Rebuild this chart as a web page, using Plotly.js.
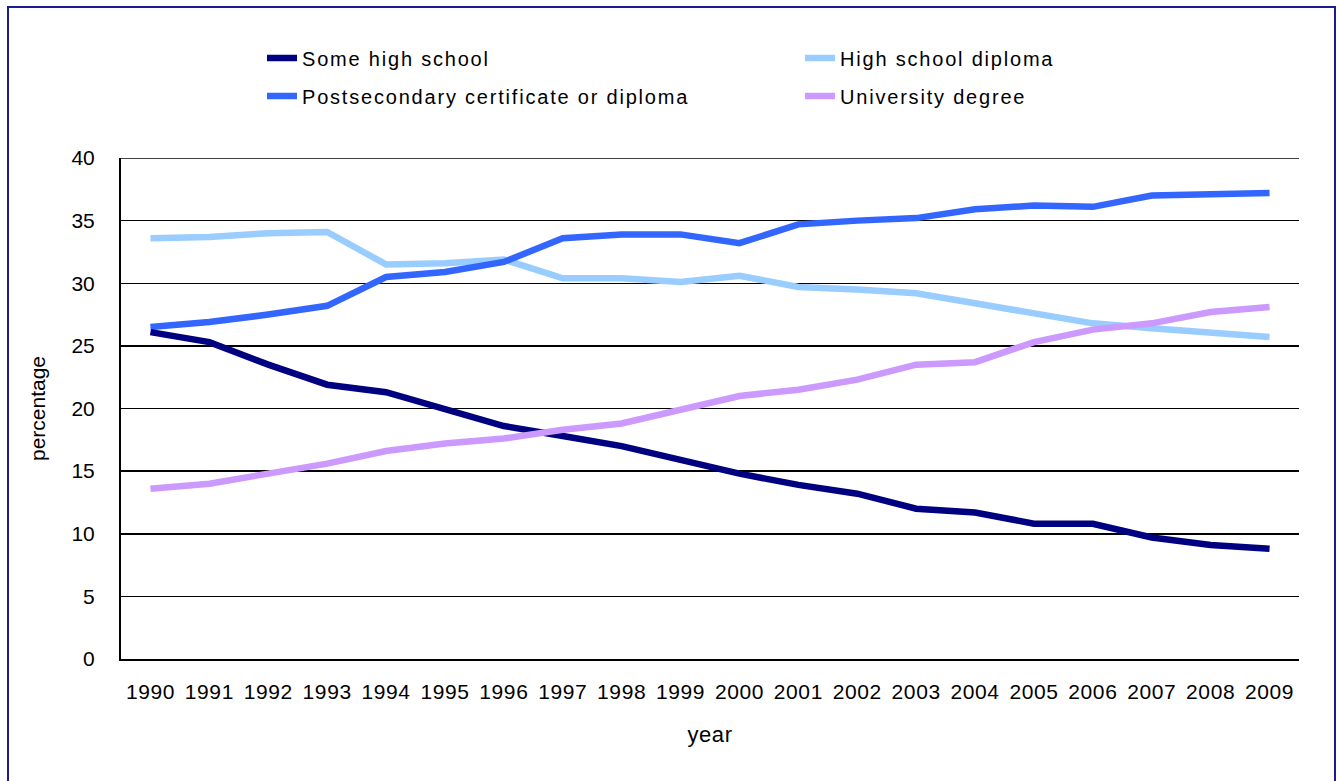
<!DOCTYPE html>
<html>
<head>
<meta charset="utf-8">
<script src="https://cdn.plot.ly/plotly-3.0.1.min.js"></script>
<style>
  html, body { margin: 0; padding: 0; background: #ffffff; }
  #wrap { position: relative; width: 1338px; height: 781px; overflow: hidden; }
  #chart { position: absolute; left: 0; top: 0; width: 1338px; height: 781px; }
  #frame { position: absolute; left: 7px; top: 6px; width: 1329px; height: 820px;
           border: 2px solid #1c1c8e; box-sizing: border-box; pointer-events: none; }
  #chart text.legendtext, #chart .infolayer g[class^="legend"] text { letter-spacing: 1.8px; }
  #chart .xtick text, #chart .g-xtitle text { letter-spacing: 0.6px; }
</style>
</head>
<body>
<div id="wrap">
  <div id="chart"></div>
  <div id="frame"></div>
</div>
<script>
const years = ['1990','1991','1992','1993','1994','1995','1996','1997','1998','1999',
               '2000','2001','2002','2003','2004','2005','2006','2007','2008','2009'];

const someHighSchool = [26.1, 25.3, 23.5, 21.9, 21.3, 19.9, 18.6, 17.8, 17.0, 15.9,
                        14.8, 13.9, 13.2, 12.0, 11.7, 10.8, 10.8, 9.7, 9.1, 8.8];
const highSchoolDiploma = [33.6, 33.7, 34.0, 34.1, 31.5, 31.6, 31.9, 30.4, 30.4, 30.1,
                           30.6, 29.7, 29.5, 29.2, 28.4, 27.6, 26.8, 26.4, 26.0, 25.7];
const postsecondary = [26.5, 26.9, 27.5, 28.2, 30.5, 30.9, 31.7, 33.6, 33.9, 33.9,
                       33.2, 34.7, 35.0, 35.2, 35.9, 36.2, 36.1, 37.0, 37.1, 37.2];
const university = [13.6, 14.0, 14.8, 15.6, 16.6, 17.2, 17.6, 18.3, 18.8, 19.9,
                    21.0, 21.5, 22.3, 23.5, 23.7, 25.3, 26.3, 26.8, 27.7, 28.1];

const yTicks = [0, 5, 10, 15, 20, 25, 30, 35, 40];

const FONT = 'Liberation Sans, Arial, sans-serif';
const LW = 6.5;

const traces = [
  { name: 'High school diploma', x: years, y: highSchoolDiploma, legend: 'legend', legendrank: 2,
    line: { color: '#99ccff', width: LW } },
  { name: 'Postsecondary certificate or diploma', x: years, y: postsecondary, legend: 'legend2', legendrank: 1,
    line: { color: '#3366ff', width: LW } },
  { name: 'Some high school', x: years, y: someHighSchool, legend: 'legend', legendrank: 1,
    line: { color: '#000080', width: LW } },
  { name: 'University degree', x: years, y: university, legend: 'legend2', legendrank: 2,
    line: { color: '#cc99ff', width: LW } }
].map(t => Object.assign({ type: 'scatter', mode: 'lines', hoverinfo: 'skip' }, t));

const legendCommon = {
  orientation: 'h', xref: 'paper', yref: 'container', xanchor: 'left', yanchor: 'middle',
  x: 0.1776, entrywidth: 493, entrywidthmode: 'pixels', traceorder: 'normal',
  font: { family: FONT, size: 20, color: '#000000' }, bgcolor: 'rgba(0,0,0,0)', itemwidth: 30
};

const layout = {
  width: 1338, height: 781,
  paper_bgcolor: '#ffffff', plot_bgcolor: '#ffffff',
  margin: { l: 121, r: 39, t: 158, b: 122 },
  font: { family: FONT, size: 20, color: '#000000' },
  showlegend: true,
  legend: Object.assign({}, legendCommon, { y: 1 - 58 / 781 }),
  legend2: Object.assign({}, legendCommon, { y: 1 - 96 / 781 }),
  hovermode: false,
  xaxis: {
    type: 'category', categoryorder: 'array', categoryarray: years,
    range: [-0.5, years.length - 0.5],
    tickvals: years, ticktext: years,
    showline: true, linecolor: '#000000', linewidth: 2,
    showgrid: false, zeroline: false, ticks: '', ticklabelstandoff: 13,
    tickfont: { family: FONT, size: 21, color: '#000000' },
    title: { text: 'year', font: { family: FONT, size: 22, color: '#000000' }, standoff: 24 },
    automargin: false, fixedrange: true
  },
  yaxis: {
    range: [0, 40], tickvals: yTicks, ticktext: yTicks.map(String),
    showline: true, linecolor: '#000000', linewidth: 2,
    showgrid: true, gridcolor: '#000000', gridwidth: 1.5, zeroline: false,
    ticks: '', ticklabelstandoff: 20,
    tickfont: { family: FONT, size: 21, color: '#000000' },
    title: { text: 'percentage', font: { family: FONT, size: 21, color: '#000000' }, standoff: 20 },
    automargin: false, fixedrange: true
  },
  shapes: [
    { type: 'line', xref: 'paper', yref: 'y', x0: 0, x1: 1, y0: 40, y1: 40,
      line: { color: '#000000', width: 1.5 }, layer: 'below' }
  ]
};

Plotly.newPlot('chart', traces, layout, { displayModeBar: false, staticPlot: true }).then(function (gd) {
  gd.querySelectorAll('text.legendtext').forEach(function (el) {
    el.style.letterSpacing = '1.8px';
  });
});
</script>
</body>
</html>
